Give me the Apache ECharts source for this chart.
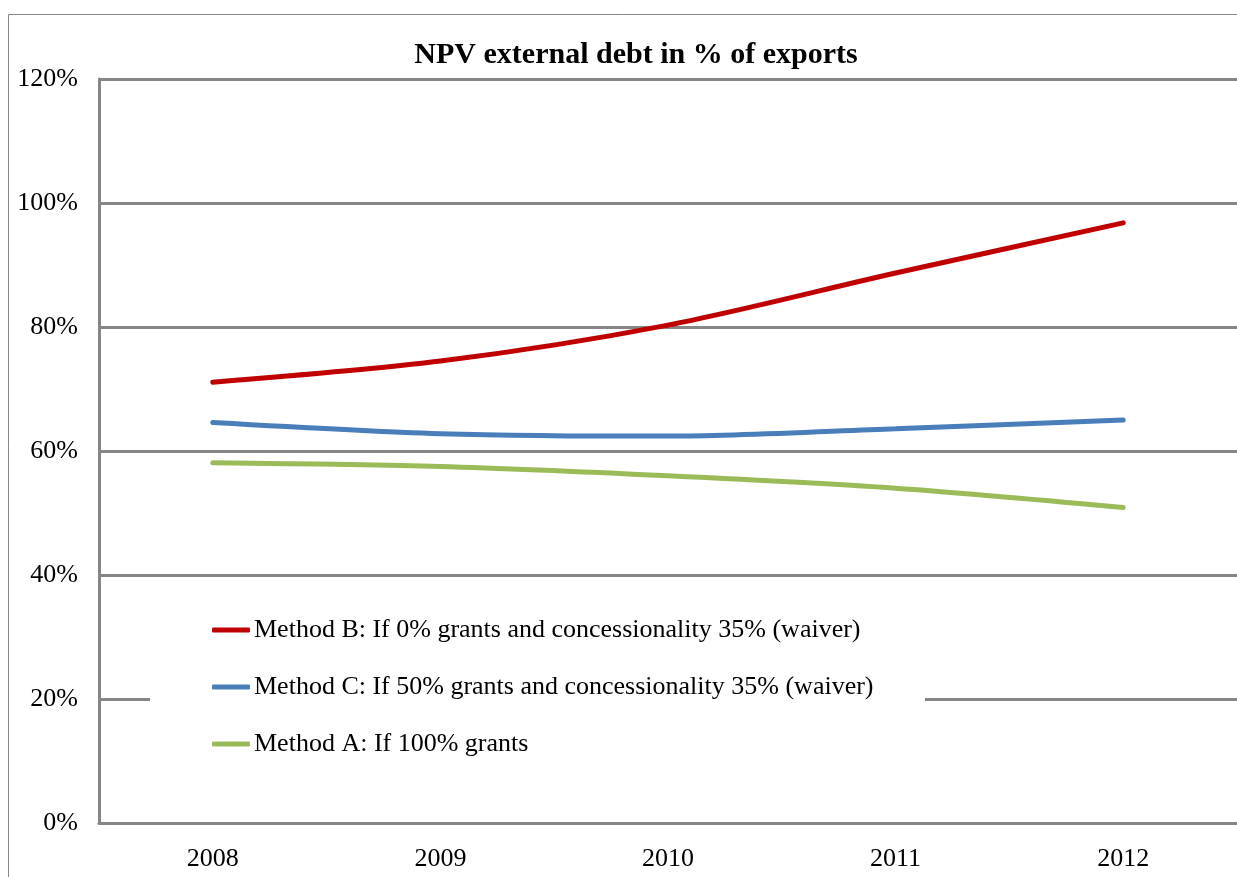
<!DOCTYPE html>
<html>
<head>
<meta charset="utf-8">
<script src="https://cdn.jsdelivr.net/npm/echarts@6/dist/echarts.min.js"></script>
<style>
  html, body { margin: 0; padding: 0; background: #fff; }
  #chart { width: 1237px; height: 877px; }
</style>
</head>
<body>
<div id="chart"></div>
<script>
const years = ['2008', '2009', '2010', '2011', '2012'];
const methodB = [71.1, 74.5, 80.3, 88.7, 96.8];
const methodC = [64.6, 62.8, 62.4, 63.6, 65.0];
const methodA = [58.1, 57.5, 56.0, 54.0, 50.9];
const seriesNames = [
  'Method B: If 0% grants and concessionality 35% (waiver)',
  'Method C: If 50% grants and concessionality 35% (waiver)',
  'Method A: If 100% grants',
];

const font = '"Liberation Serif", "Times New Roman", serif';
const gridGray = '#868686';

const chart = echarts.init(document.getElementById('chart'));

const line = (name, data, color) => ({
  name,
  type: 'line',
  data,
  smooth: 0.3,
  symbol: 'none',
  lineStyle: { width: 5, color, cap: 'round' },
  itemStyle: { color },
});

chart.setOption({
  animation: false,
  backgroundColor: '#fff',
  textStyle: { fontFamily: font },
  title: {
    text: 'NPV external debt in % of exports',
    left: 631,
    textAlign: 'center',
    top: 35,
    textStyle: { fontFamily: font, fontSize: 30, fontWeight: 'bold', color: '#000' },
  },
  graphic: [
    {
      type: 'rect',
      z: -1,
      shape: { x: 8.5, y: 14.5, width: 1300, height: 900 },
      style: { fill: 'none', stroke: gridGray, lineWidth: 1 },
    },
    {
      type: 'rect',
      z: 1,
      shape: { x: 150, y: 603, width: 775, height: 165 },
      style: { fill: '#fff' },
    },
  ],
  legend: {
    orient: 'vertical',
    left: 212,
    top: 617,
    padding: 0,
    itemWidth: 38,
    itemHeight: 5,
    itemGap: 31,
    icon: 'roundRect',
    textStyle: { fontFamily: font, fontSize: 26, color: '#000', lineHeight: 24, padding: [0, 0, 0, -1] },
    data: seriesNames,
  },
  grid: { left: 99, top: 79, width: 1140, height: 744 },
  xAxis: {
    type: 'category',
    data: years,
    boundaryGap: true,
    axisLine: { lineStyle: { color: gridGray, width: 3 } },
    axisTick: { show: false },
    axisLabel: { fontFamily: font, fontSize: 26, color: '#000', margin: 23 },
  },
  yAxis: {
    type: 'value',
    min: 0,
    max: 120,
    interval: 20,
    axisLine: { show: true, lineStyle: { color: gridGray, width: 3 } },
    axisTick: { show: false },
    axisLabel: { fontFamily: font, fontSize: 26, color: '#000', margin: 21, formatter: '{value}%' },
    splitLine: { lineStyle: { color: gridGray, width: 3 } },
  },
  series: [
    line(seriesNames[0], methodB, '#C00000'),
    line(seriesNames[1], methodC, '#4A7EBB'),
    line(seriesNames[2], methodA, '#9BBB59'),
  ],
});
</script>
</body>
</html>
